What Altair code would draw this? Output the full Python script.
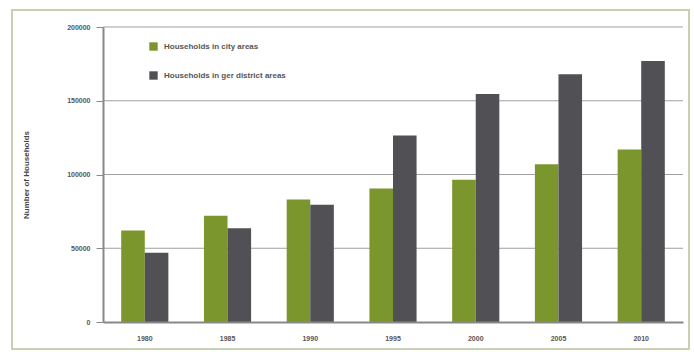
import altair as alt
import pandas as pd

years = ["1980", "1985", "1990", "1995", "2000", "2005", "2010"]
city = [62000, 72000, 83000, 90500, 96500, 107000, 117000]
ger = [47000, 63500, 79500, 126500, 154500, 168000, 177000]
series = ["Households in city areas", "Households in ger district areas"]
colors = ["#7b962c", "#505055"]
y_ticks = [0, 50000, 100000, 150000, 200000]

rows = []
for i, y in enumerate(years):
    rows.append({"year": y, "series": series[0], "value": city[i]})
    rows.append({"year": y, "series": series[1], "value": ger[i]})
df = pd.DataFrame(rows)

W = 580
H = 295

frame = alt.Chart(pd.DataFrame({"a": [0]})).mark_rect(
    fillOpacity=0, stroke="#c9cfb3", strokeWidth=2
).encode(
    x=alt.value(-91), x2=alt.value(W + 6),
    y=alt.value(-17), y2=alt.value(H + 27),
)

yscale = alt.Scale(domain=[0, 200000], nice=False)

grid = alt.Chart(pd.DataFrame({"v": y_ticks[1:]})).mark_rule(
    color="#a0a0a0", strokeWidth=1
).encode(
    y=alt.Y("v:Q", scale=yscale),
    x=alt.value(0), x2=alt.value(W),
)

bars = alt.Chart(df).mark_bar().encode(
    x=alt.X("year:N", sort=years, title=None,
            scale=alt.Scale(paddingInner=0.43, paddingOuter=0.22),
            axis=alt.Axis(labelAngle=0, labelFontSize=7, labelFontWeight="bold",
                          labelColor="#555", labelPadding=12, ticks=False,
                          domainColor="#888", domainWidth=2, zindex=1)),
    xOffset=alt.XOffset("series:N", sort=series),
    y=alt.Y("value:Q", title="Number of Households", scale=yscale,
            axis=alt.Axis(values=y_ticks, format="d",
                          labelFontSize=7, labelFontWeight="bold", labelColor="#555",
                          tickSize=7, tickColor="#888", labelPadding=6,
                          domainColor="#888", domainWidth=2, grid=False, zindex=1,
                          titleFontSize=8, titleFontWeight="bold", titleColor="#444",
                          titlePadding=36)),
    color=alt.Color("series:N", sort=series,
                    scale=alt.Scale(domain=series, range=colors),
                    legend=alt.Legend(title=None, orient="none", legendX=46, legendY=15,
                                      symbolType="square", symbolSize=70,
                                      symbolStrokeWidth=0, rowPadding=20,
                                      labelFontSize=8, labelFontWeight="bold",
                                      labelColor="#555", labelOffset=6)),
)

chart = alt.layer(frame, grid, bars).properties(
    width=W, height=H,
    autosize=alt.AutoSizeParams(type="none"),
    padding={"left": 103, "top": 27, "right": 11, "bottom": 30},
    background="white",
).configure_view(stroke=None).configure_axis(
    labelFont="Liberation Sans", titleFont="Liberation Sans"
).configure_legend(labelFont="Liberation Sans")

chart.save("out.html", embed_options={"renderer": "svg", "actions": False})
